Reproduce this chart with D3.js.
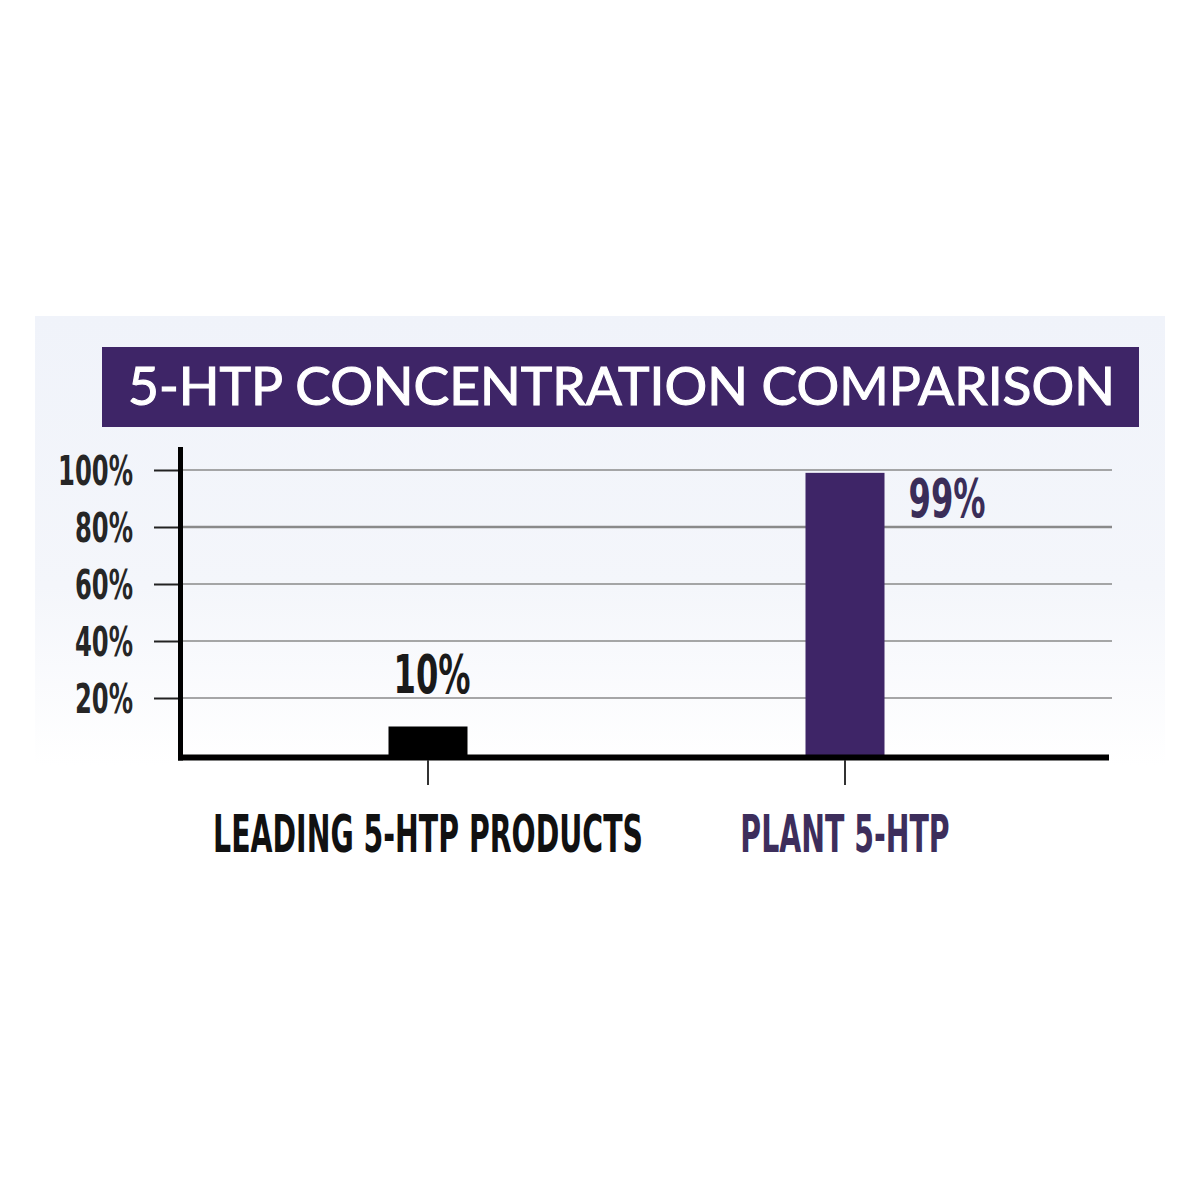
<!DOCTYPE html>
<html>
<head>
<meta charset="utf-8">
<script src="https://cdn.jsdelivr.net/npm/d3@7"></script>
<style>
  html, body { margin: 0; padding: 0; background: #ffffff; }
  svg { display: block; }
</style>
</head>
<body>
<svg id="chart" width="1200" height="1200"></svg>
<script>
// ---- data ----
const title = "5-HTP CONCENTRATION COMPARISON";
const categories = ["LEADING 5-HTP PRODUCTS", "PLANT 5-HTP"];
const values = [10, 99];
const valueLabels = ["10%", "99%"];
const yTicks = [20, 40, 60, 80, 100];
const yTickLabels = ["20%", "40%", "60%", "80%", "100%"];

// ---- styling ----
const purple = "#3e2567";
const barColors = ["#000000", purple];
const labelColors = ["#111111", "#3d2e5c"];
const valueColors = ["#1a1a1a", "#3a2d58"];
const condensed = "'Liberation Sans Narrow', 'DejaVu Sans Condensed', 'Roboto Condensed', 'Liberation Sans', sans-serif";

const svg = d3.select("#chart");

// background panel
const defs = svg.append("defs");
const grad = defs.append("linearGradient").attr("id", "bg").attr("x1", 0).attr("y1", 0).attr("x2", 0).attr("y2", 1);
grad.append("stop").attr("offset", "0%").attr("stop-color", "#f0f3fa");
grad.append("stop").attr("offset", "60%").attr("stop-color", "#f4f6fb");
grad.append("stop").attr("offset", "100%").attr("stop-color", "#ffffff");
svg.append("rect").attr("x", 35).attr("y", 316).attr("width", 1130).attr("height", 450).attr("fill", "url(#bg)");

// title box
svg.append("rect").attr("x", 102).attr("y", 347).attr("width", 1037).attr("height", 80).attr("fill", purple);
svg.append("text")
  .attr("x", 128).attr("y", 405)
  .attr("fill", "#ffffff")
  .attr("stroke", "#ffffff")
  .attr("stroke-width", 1.1)
  .attr("font-family", "Lato, 'Open Sans', sans-serif")
  .attr("font-weight", 400)
  .attr("font-size", 53)
  .attr("textLength", 987)
  .attr("lengthAdjust", "spacingAndGlyphs")
  .text(title);

// scales
const y = d3.scaleLinear().domain([0, 100]).range([755, 470]);
const x = d3.scalePoint().domain(categories).range([219.5, 1053.5]).padding(0.5);
const barW = 79;

// gridlines
svg.append("g").selectAll("line").data(yTicks).join("line")
  .attr("x1", 180).attr("x2", 1112)
  .attr("y1", d => y(d)).attr("y2", d => y(d))
  .attr("stroke", "#8a8a8a")
  .attr("stroke-width", d => d === 80 ? 2.4 : 1.6);

// y axis ticks and labels
const yAxis = d3.axisLeft(y)
  .tickValues(yTicks)
  .tickSize(26)
  .tickPadding(21)
  .tickFormat((d, i) => yTickLabels[i]);
const gy = svg.append("g").attr("transform", "translate(180,0)").call(yAxis);
gy.select(".domain").remove();
gy.selectAll(".tick line").attr("stroke", "#222").attr("stroke-width", 2);
gy.selectAll(".tick text")
  .attr("font-family", condensed)
  .attr("font-weight", 700)
  .attr("font-size", 41)
  .attr("fill", "#262626")
  .attr("dy", "0.36em");

// bars
svg.append("g").selectAll("rect").data(values).join("rect")
  .attr("x", (d, i) => x(categories[i]) - barW / 2)
  .attr("width", barW)
  .attr("y", d => y(d))
  .attr("height", d => y(0) - y(d))
  .attr("fill", (d, i) => barColors[i]);

// axis lines
svg.append("line").attr("x1", 180.5).attr("x2", 180.5).attr("y1", 447).attr("y2", 760.5)
  .attr("stroke", "#000").attr("stroke-width", 5);
svg.append("line").attr("x1", 178).attr("x2", 1109).attr("y1", 757.5).attr("y2", 757.5)
  .attr("stroke", "#000").attr("stroke-width", 6);

// x ticks
svg.append("g").selectAll("line").data(categories).join("line")
  .attr("x1", d => x(d)).attr("x2", d => x(d))
  .attr("y1", 760).attr("y2", 785)
  .attr("stroke", "#333").attr("stroke-width", 2);

// category labels
const catText = svg.append("g").selectAll("text").data(categories).join("text")
  .attr("x", d => x(d))
  .attr("y", 852)
  .attr("text-anchor", "middle")
  .attr("font-family", condensed)
  .attr("font-weight", 700)
  .attr("font-size", 52)
  .attr("fill", (d, i) => labelColors[i])
  .text(d => d);

// value labels
const valText = svg.append("g").selectAll("text").data(values).join("text")
  .attr("x", (d, i) => d > 50 ? x(categories[i]) + barW / 2 + 24 : x(categories[i]) + 4)
  .attr("y", (d, i) => d > 50 ? y(d) + 44 : y(d) - 34)
  .attr("text-anchor", d => d > 50 ? "start" : "middle")
  .attr("font-family", condensed)
  .attr("font-weight", 700)
  .attr("font-size", 54)
  .attr("fill", (d, i) => valueColors[i])
  .text((d, i) => valueLabels[i]);

// compress text horizontally (around its anchor) to match the narrow display face
function squeeze(sel, refIndex, targetWidth) {
  const nodes = sel.nodes();
  const f = targetWidth / nodes[refIndex].getComputedTextLength();
  sel.each(function () {
    const el = d3.select(this);
    const ax = +el.attr("x") || 0;
    const ay = +el.attr("y") || 0;
    el.attr("x", 0).attr("y", 0)
      .attr("transform", `translate(${ax},${ay}) scale(${f},1)`);
  });
}
squeeze(gy.selectAll(".tick text"), 4, 75);
squeeze(catText, 0, 430);
squeeze(valText, 1, 77);
</script>
</body>
</html>
